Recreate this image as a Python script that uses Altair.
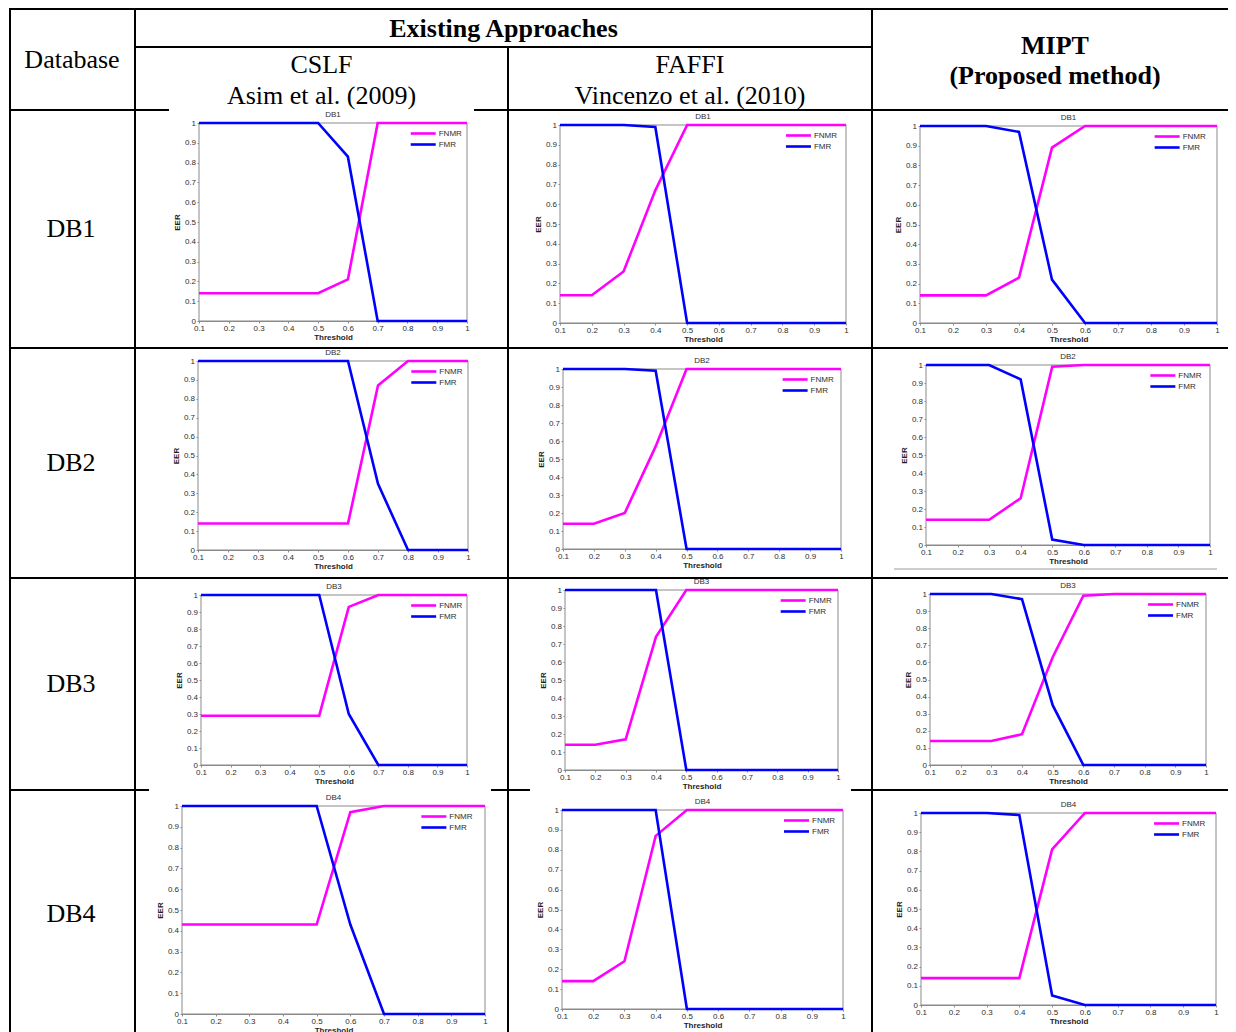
import altair as alt
import pandas as pd

# ---------------- data ----------------
thresholds = [0.1, 0.2, 0.3, 0.4, 0.5, 0.6, 0.7, 0.8, 0.9, 1.0]
eer_ticks = [0.0, 0.1, 0.2, 0.3, 0.4, 0.5, 0.6, 0.7, 0.8, 0.9, 1.0]
series_names = ["FNMR", "FMR"]
series_colors = ["#ff00ff", "#0000ff"]
databases = ["DB1", "DB2", "DB3", "DB4"]

cslf_db1_fnmr = [0.14, 0.14, 0.14, 0.14, 0.14, 0.21, 1.0, 1.0, 1.0, 1.0]
cslf_db1_fmr = [1.0, 1.0, 1.0, 1.0, 1.0, 0.83, 0.0, 0.0, 0.0, 0.0]
cslf_db2_fnmr = [0.14, 0.14, 0.14, 0.14, 0.14, 0.14, 0.87, 1.0, 1.0, 1.0]
cslf_db2_fmr = [1.0, 1.0, 1.0, 1.0, 1.0, 1.0, 0.35, 0.0, 0.0, 0.0]
cslf_db3_fnmr = [0.29, 0.29, 0.29, 0.29, 0.29, 0.93, 1.0, 1.0, 1.0, 1.0]
cslf_db3_fmr = [1.0, 1.0, 1.0, 1.0, 1.0, 0.30, 0.0, 0.0, 0.0, 0.0]
cslf_db4_fnmr = [0.43, 0.43, 0.43, 0.43, 0.43, 0.97, 1.0, 1.0, 1.0, 1.0]
cslf_db4_fmr = [1.0, 1.0, 1.0, 1.0, 1.0, 0.43, 0.0, 0.0, 0.0, 0.0]

faffi_db1_fnmr = [0.14, 0.14, 0.26, 0.67, 1.0, 1.0, 1.0, 1.0, 1.0, 1.0]
faffi_db1_fmr = [1.0, 1.0, 1.0, 0.99, 0.0, 0.0, 0.0, 0.0, 0.0, 0.0]
faffi_db2_fnmr = [0.14, 0.14, 0.20, 0.57, 1.0, 1.0, 1.0, 1.0, 1.0, 1.0]
faffi_db2_fmr = [1.0, 1.0, 1.0, 0.99, 0.0, 0.0, 0.0, 0.0, 0.0, 0.0]
faffi_db3_fnmr = [0.14, 0.14, 0.17, 0.74, 1.0, 1.0, 1.0, 1.0, 1.0, 1.0]
faffi_db3_fmr = [1.0, 1.0, 1.0, 1.0, 0.0, 0.0, 0.0, 0.0, 0.0, 0.0]
faffi_db4_fnmr = [0.14, 0.14, 0.24, 0.87, 1.0, 1.0, 1.0, 1.0, 1.0, 1.0]
faffi_db4_fmr = [1.0, 1.0, 1.0, 1.0, 0.0, 0.0, 0.0, 0.0, 0.0, 0.0]

mipt_db1_fnmr = [0.14, 0.14, 0.14, 0.23, 0.89, 1.0, 1.0, 1.0, 1.0, 1.0]
mipt_db1_fmr = [1.0, 1.0, 1.0, 0.97, 0.22, 0.0, 0.0, 0.0, 0.0, 0.0]
mipt_db2_fnmr = [0.14, 0.14, 0.14, 0.26, 0.99, 1.0, 1.0, 1.0, 1.0, 1.0]
mipt_db2_fmr = [1.0, 1.0, 1.0, 0.92, 0.03, 0.0, 0.0, 0.0, 0.0, 0.0]
mipt_db3_fnmr = [0.14, 0.14, 0.14, 0.18, 0.63, 0.99, 1.0, 1.0, 1.0, 1.0]
mipt_db3_fmr = [1.0, 1.0, 1.0, 0.97, 0.35, 0.0, 0.0, 0.0, 0.0, 0.0]
mipt_db4_fnmr = [0.14, 0.14, 0.14, 0.14, 0.81, 1.0, 1.0, 1.0, 1.0, 1.0]
mipt_db4_fmr = [1.0, 1.0, 1.0, 0.99, 0.05, 0.0, 0.0, 0.0, 0.0, 0.0]

# ---------------- layout ----------------
W, H = 1220, 1024
SERIF = "Liberation Serif"
SANS = "Liberation Sans"
ONE = pd.DataFrame({"k": [0]})

# plot boxes: left, right, top, bottom (pixels)
boxes = {
    ("CSLF", "DB1"): (191, 459, 115, 313),
    ("CSLF", "DB2"): (190, 460, 353, 542),
    ("CSLF", "DB3"): (193, 459, 587, 757),
    ("CSLF", "DB4"): (174, 477, 798, 1006),
    ("FAFFI", "DB1"): (552, 838, 117, 315),
    ("FAFFI", "DB2"): (555, 833, 361, 541),
    ("FAFFI", "DB3"): (557, 830, 582, 762),
    ("FAFFI", "DB4"): (554, 835, 802, 1001),
    ("MIPT", "DB1"): (912, 1209, 118, 315),
    ("MIPT", "DB2"): (918, 1202, 357, 537),
    ("MIPT", "DB3"): (922, 1198, 586, 757),
    ("MIPT", "DB4"): (913, 1208, 805, 997),
}

series = {
    ("CSLF", "DB1"): (cslf_db1_fnmr, cslf_db1_fmr),
    ("CSLF", "DB2"): (cslf_db2_fnmr, cslf_db2_fmr),
    ("CSLF", "DB3"): (cslf_db3_fnmr, cslf_db3_fmr),
    ("CSLF", "DB4"): (cslf_db4_fnmr, cslf_db4_fmr),
    ("FAFFI", "DB1"): (faffi_db1_fnmr, faffi_db1_fmr),
    ("FAFFI", "DB2"): (faffi_db2_fnmr, faffi_db2_fmr),
    ("FAFFI", "DB3"): (faffi_db3_fnmr, faffi_db3_fmr),
    ("FAFFI", "DB4"): (faffi_db4_fnmr, faffi_db4_fmr),
    ("MIPT", "DB1"): (mipt_db1_fnmr, mipt_db1_fmr),
    ("MIPT", "DB2"): (mipt_db2_fnmr, mipt_db2_fmr),
    ("MIPT", "DB3"): (mipt_db3_fnmr, mipt_db3_fmr),
    ("MIPT", "DB4"): (mipt_db4_fnmr, mipt_db4_fmr),
}


def hline(y, xa, xb, color="black", sw=2):
    return alt.Chart(ONE).mark_rule(color=color, strokeWidth=sw).encode(
        x=alt.value(xa), x2=alt.value(xb), y=alt.value(y))


def vline(x, ya, yb, color="black", sw=2):
    return alt.Chart(ONE).mark_rule(color=color, strokeWidth=sw).encode(
        x=alt.value(x), y=alt.value(ya), y2=alt.value(yb))


def label(txt, x, y, size=26, bold=False, font=SERIF, color="black", align="center"):
    return alt.Chart(ONE).mark_text(
        text=txt, font=font, fontSize=size, fontWeight="bold" if bold else "normal",
        color=color, align=align, baseline="middle").encode(
        x=alt.value(x), y=alt.value(y))


def mini_chart(key):
    x0, x1, y0, y1 = boxes[key]
    fnmr, fmr = series[key]
    n = len(thresholds)
    df = pd.DataFrame({
        "Threshold": thresholds + thresholds,
        "EER": fnmr + fmr,
        "Series": [series_names[0]] * n + [series_names[1]] * n,
    })
    xs = alt.Scale(domain=[thresholds[0], thresholds[-1]], range=[x0, x1], nice=False, zero=False)
    ys = alt.Scale(domain=[eer_ticks[0], eer_ticks[-1]], range=[y1, y0], nice=False, zero=False)
    common = dict(labelFont=SANS, labelFontSize=8, labelColor="#2e2e2e",
                  titleFont=SANS, titleFontSize=8, titleFontWeight="bold", titleColor="#1e1e1e",
                  domainColor="#8a8a8a", tickColor="#8a8a8a", tickSize=2, labelPadding=1.5,
                  grid=False, labelOverlap=False, labelFlush=False, format="~g")
    frame = alt.Chart(ONE).mark_rect(fill="white", stroke="#8a8a8a", strokeWidth=1).encode(
        x=alt.value(x0), x2=alt.value(x1), y=alt.value(y0), y2=alt.value(y1))
    lines = alt.Chart(df).mark_line(strokeWidth=2.6).encode(
        x=alt.X("Threshold:Q", scale=xs,
                axis=alt.Axis(orient="bottom", offset=y1 - H, values=thresholds,
                              title="Threshold", titlePadding=1, **common)),
        y=alt.Y("EER:Q", scale=ys,
                axis=alt.Axis(orient="left", offset=-x0, values=eer_ticks,
                              title="EER", titlePadding=3, **common)),
        color=alt.Color("Series:N", scale=alt.Scale(domain=series_names, range=series_colors),
                        legend=None),
    )
    title = label(key[1], (x0 + x1) / 2, y0 - 8.5, size=8, font=SANS, color="#2e2e2e")
    lw = x1 - x0
    lx = x1 - 0.21 * lw
    parts = [frame, lines, title]
    for i, (nm, col) in enumerate(zip(series_names, series_colors)):
        ly = y0 + 10.5 + 11 * i
        parts.append(hline(ly, lx, lx + 25, color=col, sw=2.6))
        parts.append(label(nm, lx + 28, ly, size=8, font=SANS, color="#2e2e2e", align="left"))
    return alt.layer(*parts)


layers = []
# table grid
for (y, xa, xb) in [(1, 2, W), (39, 127, 864), (102, 2, 161), (102, 466, W), (340, 2, W),
                    (570, 2, W), (782, 2, 141), (782, 483, 522), (782, 843, W)]:
    layers.append(hline(y, xa, xb))
for (x, ya, yb) in [(2, 0, H), (127, 0, H), (500, 39, H), (864, 0, H)]:
    layers.append(vline(x, ya, yb))
layers.append(hline(561, 886, 1209, color="#9a9a9a", sw=1))

# header texts
layers.append(label("Database", 64, 52))
layers.append(label("Existing Approaches", 495.5, 21, bold=True))
layers.append(label("CSLF", 313.5, 57))
layers.append(label("Asim et al. (2009)", 313.5, 88))
layers.append(label("FAFFI", 682, 57))
layers.append(label("Vincenzo et al. (2010)", 682, 88))
layers.append(label("MIPT", 1047, 38, bold=True))
layers.append(label("(Proposed method)", 1047, 68, bold=True))
for db, y in zip(databases, [221, 455, 676, 906]):
    layers.append(label(db, 63, y))

for m in ["CSLF", "FAFFI", "MIPT"]:
    for db in databases:
        layers.append(mini_chart((m, db)))

chart = alt.layer(*layers).resolve_scale(x="independent", y="independent").properties(
    width=W, height=H, autosize=alt.AutoSizeParams(type="none"), padding=0,
    background="white",
).configure_view(stroke=None)

chart.save("out.html", embed_options={"renderer": "svg", "actions": False})
